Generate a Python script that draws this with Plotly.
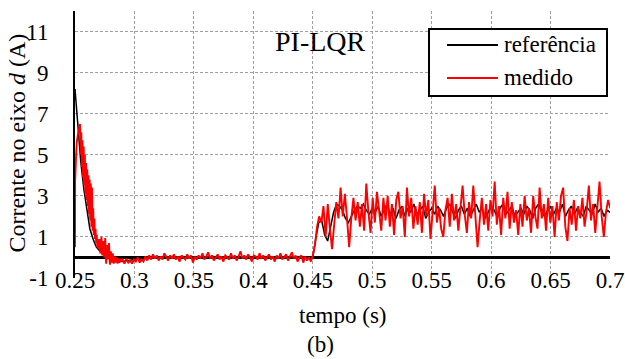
import numpy as np
import plotly.graph_objects as go

# ---------------- data ----------------
x_ticks = [0.25, 0.3, 0.35, 0.4, 0.45, 0.5, 0.55, 0.6, 0.65, 0.7]
x_tick_text = ["0.25", "0.3", "0.35", "0.4", "0.45", "0.5", "0.55", "0.6", "0.65", "0.7"]
y_ticks = [-1, 1, 3, 5, 7, 9, 11]
y_tick_text = ["-1", "1", "3", "5", "7", "9", "11"]
series_names = ["referência", "medido"]
series_colors = ["black", "#ff0000"]

# reference (black): transient part, explicit times
ref_t_start = [0.25, 0.2525, 0.2548, 0.2575, 0.2598, 0.2625, 0.2654, 0.268, 0.271, 0.275,
               0.28, 0.285, 0.29, 0.295, 0.30, 0.31, 0.32,
               0.33, 0.34, 0.35, 0.36, 0.37, 0.38, 0.39, 0.40, 0.41, 0.42, 0.43, 0.44, 0.45]
ref_v_start = [8.2, 6.3, 4.7, 3.3, 2.3, 1.4, 0.86, 0.5, 0.3, 0.1,
               -0.05, -0.15, -0.2, -0.15, -0.1, -0.05, 0.0,
               0.02, -0.03, 0.03, -0.02, 0.0, 0.03, -0.03, 0.02, 0.0, -0.02, 0.02, 0.0, 0.0]
# reference (black) after the step, sampled every 2.5 ms from 0.4525 s
ref_step_t0 = 0.4525
ref_step_dt = 0.0025
ref_v_step = [0.9, 1.7, 1.8, 1.1, 0.8, 1.5, 2.2, 2.6, 2.5, 2.3,
              1.9, 1.7, 2.0, 2.3, 2.5, 2.4, 2.6, 2.3, 2.1, 2.4,
              2.2, 2.5, 2.0, 2.3, 2.6, 2.1, 2.4, 1.9, 2.3, 2.5,
              2.0, 2.4, 2.2, 2.6, 2.1, 2.3, 2.5, 1.9, 2.2, 2.4,
              2.1, 2.5, 2.3, 2.0, 2.4, 2.6, 2.2, 1.9, 2.3, 2.5,
              2.1, 2.4, 2.0, 2.3, 2.6, 2.2, 2.4, 1.9, 2.2, 2.5,
              2.3, 2.0, 2.4, 2.6, 2.1, 2.3, 2.5, 2.0, 2.2, 2.4,
              2.1, 2.5, 2.3, 1.9, 2.4, 2.6, 2.2, 2.0, 2.3, 2.5,
              2.1, 2.4, 2.2, 2.6, 2.0, 2.3, 2.5, 2.1, 2.4, 2.2,
              2.0, 2.5, 2.3, 2.1, 2.6, 2.2, 2.4, 2.0, 2.3, 2.2]

# measured (red): start-up transient, explicit times
med_t_start = [0.2500, 0.2501, 0.2508, 0.2515, 0.2525, 0.2535, 0.2542, 0.2548, 0.2553, 0.2558,
               0.2563, 0.2568, 0.2573, 0.2578, 0.2583, 0.2588, 0.2593, 0.2598, 0.2603, 0.2608,
               0.2613, 0.2618, 0.2623, 0.2628, 0.2633, 0.2638, 0.2643, 0.2648, 0.2653, 0.2658,
               0.2663, 0.2668, 0.2673, 0.2678, 0.2683, 0.2688, 0.2693, 0.2698,
               0.2706, 0.2714, 0.2722, 0.2730, 0.2738, 0.2746, 0.2754, 0.2762, 0.2770, 0.2778,
               0.2786, 0.2794, 0.2802, 0.2810, 0.2818, 0.2826, 0.2834, 0.2842, 0.2850, 0.2858,
               0.2866, 0.2874, 0.2882]
med_v_start = [0.5, 3.7, 4.8, 5.6, 6.0, 6.3, 6.5, 5.0, 6.1, 4.4,
               5.7, 3.9, 5.4, 3.5, 5.0, 3.1, 4.6, 2.8, 4.3, 2.5,
               4.0, 2.1, 3.8, 1.8, 3.6, 1.5, 3.4, 1.3, 2.4, 1.1,
               1.9, 0.9, 1.4, 0.7, 1.1, 0.5, 0.9, 0.4,
               0.9, 0.2, 1.0, 0.1, 0.8, 0.0, 0.95, -0.3, 0.6, -0.1,
               0.7, -0.35, 0.3, -0.25, 0.2, -0.3, 0.05, -0.25, 0.0, -0.3,
               -0.05, -0.25, -0.1]
# measured (red) flat part, every 1.6 ms from 0.290 s
med_flat_t0 = 0.290
med_flat_dt = 0.0016
med_v_flat = [-0.1, -0.3, -0.05, -0.25, -0.15, -0.3, -0.1, -0.2, 0.0, -0.25,
              -0.1, -0.2, 0.05, -0.15, 0.1, -0.1, 0.15, -0.05, 0.1, -0.15,
              0.05, -0.1, 0.2, 0.0, -0.15, 0.1, -0.05, 0.15, -0.1, 0.05,
              -0.2, 0.1, 0.0, -0.1, 0.15, -0.05, 0.1, -0.25, 0.05, -0.1,
              0.1, -0.05, 0.2, -0.1, 0.05, 0.25, -0.05, 0.1, -0.15, 0.0,
              0.15, -0.1, 0.05, -0.2, 0.1, 0.0, -0.1, 0.2, -0.05, 0.1,
              -0.15, 0.05, 0.3, -0.05, 0.1, -0.1, 0.15, 0.0, -0.2, 0.1,
              0.05, -0.1, 0.2, -0.05, 0.1, -0.15, 0.0, 0.15, -0.1, 0.05,
              -0.2, 0.1, -0.05, 0.2, -0.1, 0.0, 0.15, -0.15, 0.05, 0.25,
              -0.05, 0.1, -0.2, 0.0, 0.1, -0.25, 0.05, -0.15, 0.0, -0.2]
# measured (red) after the step, every 1.8 ms from 0.450 s
med_step_t0 = 0.450
med_step_dt = 0.0018
med_v_step = [0.1, 0.6, 1.5, 2.0, 1.7, 2.5, 1.0, 2.6, 1.4, 0.4,
              1.6, 2.7, 1.9, 3.4, 2.0, 3.1, 1.9, 0.5, 1.9, 2.9,
              1.8, 2.7, 1.5, 2.6, 1.3, 3.6, 2.2, 1.2, 2.9, 1.7,
              3.2, 2.1, 1.3, 2.9, 1.8, 3.0, 1.5, 2.6, 1.1, 2.8,
              3.2, 1.9, 2.5, 1.0, 3.4, 2.0, 2.9, 1.4, 2.5, 1.6,
              2.7, 1.2, 3.1, 2.0, 2.8, 0.9, 2.2, 3.5, 1.7, 2.4,
              1.4, 1.0, 2.3, 2.9, 1.5, 3.1, 1.8, 2.6, 1.3, 2.4,
              3.5, 2.1, 1.2, 2.7, 1.9, 3.5, 2.0, 0.5, 1.8, 2.9,
              1.6, 2.6, 1.3, 2.8, 2.0, 3.7, 1.6, 2.5, 1.1, 2.9,
              1.9, 3.2, 1.4, 2.7, 1.7, 2.3, 1.1, 2.6, 1.5, 3.0,
              1.8, 2.4, 1.2, 3.0, 2.0, 1.4, 3.4, 1.9, 2.6, 1.3,
              2.9, 1.7, 2.5, 1.0, 2.7, 1.8, 3.0, 3.4, 1.5, 0.8,
              2.4, 1.6, 2.8, 1.3, 2.5, 1.9, 2.9, 1.5, 2.3, 3.5,
              1.8, 2.6, 1.2, 2.7, 3.7, 2.0, 1.0, 2.2, 2.8, 2.4]

# ---------------- assemble series ----------------
ref_t = list(ref_t_start) + list(ref_step_t0 + ref_step_dt * np.arange(len(ref_v_step)))
ref_v = list(ref_v_start) + list(ref_v_step)
med_t = (list(med_t_start)
         + list(med_flat_t0 + med_flat_dt * np.arange(len(med_v_flat)))
         + list(med_step_t0 + med_step_dt * np.arange(len(med_v_step))))
med_v = list(med_v_start) + list(med_v_flat) + list(med_v_step)

FONT = "Liberation Serif, Times New Roman, serif"

fig = go.Figure()
fig.add_trace(go.Scatter(x=ref_t, y=ref_v, mode="lines", name=series_names[0],
                         showlegend=False, line=dict(color=series_colors[0], width=1.5)))
fig.add_trace(go.Scatter(x=med_t, y=med_v, mode="lines", name=series_names[1],
                         showlegend=False, line=dict(color=series_colors[1], width=1.9)))

grid = dict(showgrid=True, gridcolor="#a0a0a0", gridwidth=1, griddash="3px,2px")

# legend box drawn in paper coordinates (plot domain fractions)
leg_x0, leg_x1, leg_y0, leg_y1 = 0.6617, 0.9944, 0.6816, 0.9326
line_x0, line_x1, text_x = 0.6953, 0.7907, 0.798
row_y = [0.8727, 0.7491]

shapes = [dict(type="rect", xref="paper", yref="paper", x0=leg_x0, x1=leg_x1, y0=leg_y0, y1=leg_y1,
               line=dict(color="black", width=2), fillcolor="white", layer="above")]
annotations = []
for name, col, yy in zip(series_names, series_colors, row_y):
    shapes.append(dict(type="line", xref="paper", yref="paper", x0=line_x0, x1=line_x1, y0=yy, y1=yy,
                       line=dict(color=col, width=2), layer="above"))
    annotations.append(dict(text=name, x=text_x, y=yy, xref="paper", yref="paper",
                            xanchor="left", yanchor="middle", showarrow=False,
                            font=dict(family=FONT, size=23, color="black")))

annotations += [
    dict(text="PI-LQR", x=0.458, y=0.884, xref="paper", yref="paper",
         xanchor="center", yanchor="middle",
         showarrow=False, font=dict(family=FONT, size=28, color="black")),
    dict(text="tempo (s)", x=0.5, y=-0.14, xref="paper", yref="paper",
         xanchor="center", yanchor="middle",
         showarrow=False, font=dict(family=FONT, size=23, color="black")),
    dict(text="(b)", x=0.458, y=-0.25, xref="paper", yref="paper",
         xanchor="center", yanchor="middle",
         showarrow=False, font=dict(family=FONT, size=23, color="black")),
    dict(text="Corrente no eixo <i>d</i> (A)", x=-0.108, y=0.505, xref="paper", yref="paper",
         xanchor="center", yanchor="middle", textangle=-90,
         showarrow=False, font=dict(family=FONT, size=24, color="black")),
]

fig.update_layout(
    width=625, height=359,
    margin=dict(l=75, r=15, t=11, b=81),
    paper_bgcolor="white", plot_bgcolor="white",
    font=dict(family=FONT, size=23, color="black"),
    showlegend=False,
    xaxis=dict(range=[0.25, 0.7], tickvals=x_ticks, ticktext=x_tick_text,
               showline=False, zeroline=False, ticks="", automargin=False,
               ticklabelstandoff=-14,
               tickfont=dict(family=FONT, size=23), **grid),
    yaxis=dict(range=[-1, 12], tickvals=y_ticks, ticktext=y_tick_text,
               showline=True, linecolor="black", linewidth=2,
               zeroline=True, zerolinecolor="black", zerolinewidth=2.5,
               ticks="", ticklabelstandoff=20, automargin=False,
               tickfont=dict(family=FONT, size=23), **grid),
    shapes=shapes,
    annotations=annotations,
)

fig.write_html("out.html")
